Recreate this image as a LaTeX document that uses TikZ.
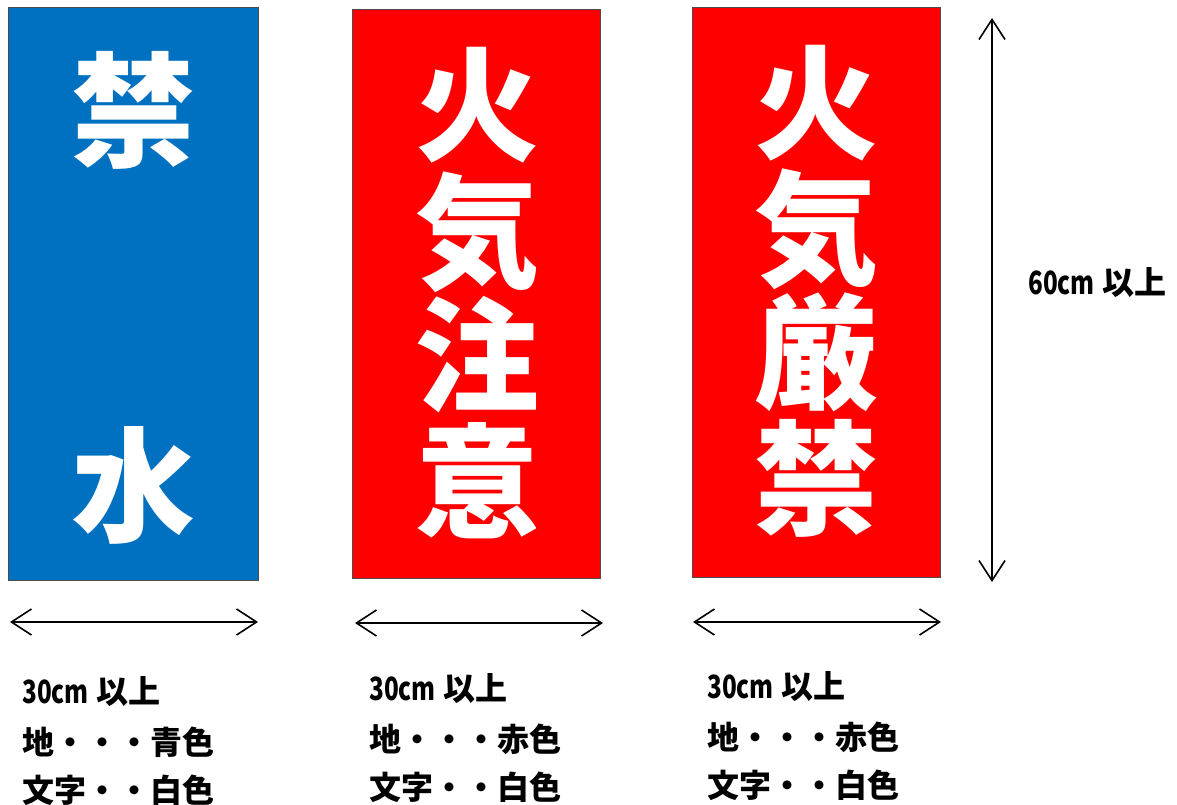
\documentclass[tikz,border=0pt]{standalone}
\usepackage{fontspec}
\usepackage{graphicx}
\usetikzlibrary{arrows.meta}
\newfontfamily\cjk{Noto Sans CJK JP}
\definecolor{signblue}{HTML}{0070C0}
\definecolor{signred}{HTML}{FF0000}
\newcommand{\narrowtxt}[1]{\scalebox{0.76}[1]{#1}}
\begin{document}
\begin{tikzpicture}[x=1pt,y=-1pt,
  panel/.style={draw=black!70,line width=1pt},
  signchar/.style={text=white,inner sep=0pt,font=\cjk\bfseries\fontsize{124}{124}\selectfont},
  dim/.style={line width=1.6pt,{Straight Barb[length=20pt,width=26pt]}-{Straight Barb[length=20pt,width=26pt]}},
  note/.style={anchor=west,inner sep=0pt,font=\cjk\bfseries\fontsize{32}{32}\selectfont}]
\useasboundingbox (0,0) rectangle (1177,805);
% panels
\filldraw[panel,fill=signblue] (8,8) rectangle (258,580);
\filldraw[panel,fill=signred] (352,10) rectangle (600,578);
\filldraw[panel,fill=signred] (692,8) rectangle (940,577);
% panel 1
\node[signchar] (a1) at (133,110) {禁};
\node[signchar] (a2) at (133,485) {水};
% panel 2
\node[signchar] (b1) at (477,105) {火};
\node[signchar] (b2) at (477,232) {気};
\node[signchar] (b3) at (477,355) {注};
\node[signchar] (b4) at (477,481) {意};
% panel 3
\node[signchar] (c1) at (816,103) {火};
\node[signchar] (c2) at (816,229) {気};
\node[signchar] (c3) at (816,352) {厳};
\node[signchar] (c4) at (816,478) {禁};
% dimension arrows
\coordinate (h1l) at (10,622); \coordinate (h1r) at (258,622);
\coordinate (h2l) at (355,623); \coordinate (h2r) at (603,623);
\coordinate (h3l) at (693,622); \coordinate (h3r) at (941,622);
\coordinate (vt) at (992,18); \coordinate (vb) at (992,582);
\draw[dim] (h1l) -- (h1r);
\draw[dim] (h2l) -- (h2r);
\draw[dim] (h3l) -- (h3r);
\draw[dim] (vt) -- (vb);
\node[note] (hgt) at (1028,283) {\narrowtxt{60cm} 以上};
% notes
\node[note] (n11) at (22,692) {\narrowtxt{30cm} 以上};
\node[note] (n12) at (22,742) {地・・・青色};
\node[note] (n13) at (22,790) {文字・・白色};
\node[note] (n21) at (369,689) {\narrowtxt{30cm} 以上};
\node[note] (n22) at (369,739) {地・・・赤色};
\node[note] (n23) at (369,787) {文字・・白色};
\node[note] (n31) at (707,687) {\narrowtxt{30cm} 以上};
\node[note] (n32) at (707,737) {地・・・赤色};
\node[note] (n33) at (707,785) {文字・・白色};
\end{tikzpicture}
\end{document}
